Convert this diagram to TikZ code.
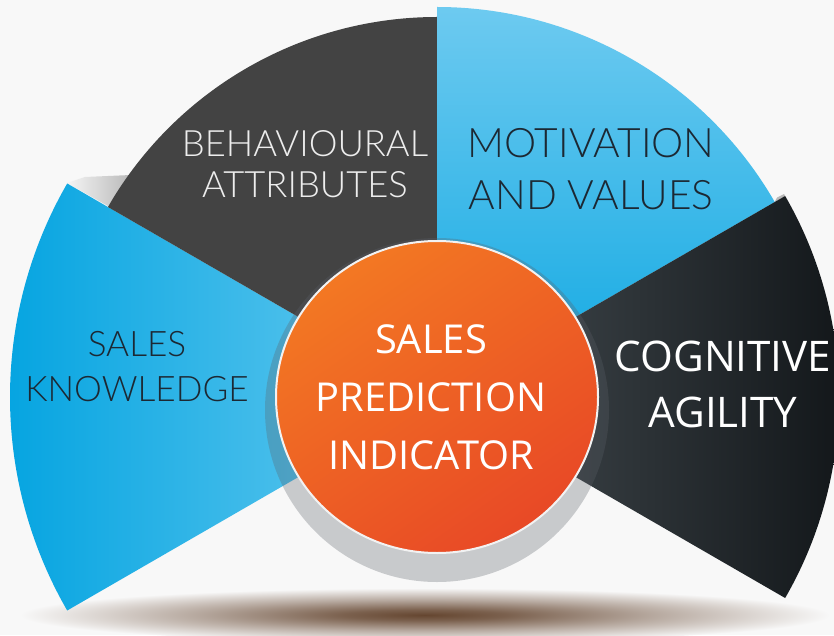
\documentclass[tikz,border=0pt]{standalone}
\usepackage{fontspec}
\newfontfamily\opensans{Open Sans}
\newfontfamily\thinsans{Lato Light}
\usepackage{xcolor}
\usepackage{tikz}
\usetikzlibrary{positioning}

\definecolor{bgcol}{HTML}{F8F8F8}
\definecolor{kblueL}{HTML}{02A3E0}
\definecolor{kblueR}{HTML}{6ACBF0}
\definecolor{behgrey}{HTML}{434343}
\definecolor{mblueT}{HTML}{6DCAF0}
\definecolor{mblueB}{HTML}{0FA8E2}
\definecolor{cognL}{HTML}{464E53}
\definecolor{cognR}{HTML}{111518}
\definecolor{orgA}{HTML}{F37823}
\definecolor{orgB}{HTML}{E84926}
\definecolor{ringgrey}{HTML}{5C6068}
\definecolor{darklabel}{HTML}{1C2833}
\definecolor{lightlabel}{HTML}{EDEDED}
\definecolor{shadowbrown}{HTML}{654630}

% soft brown shadow under the fan
\pgfdeclareradialshading{floorshadow}{\pgfpoint{0bp}{0bp}}{%
  color(0bp)=(shadowbrown); color(5bp)=(shadowbrown!85!bgcol);
  color(14bp)=(shadowbrown!45!bgcol); color(25bp)=(bgcol); color(50bp)=(bgcol)}

\begin{document}
\begin{tikzpicture}[x=0.3mm, y=0.3mm,
    wedge label/.style={align=center, inner sep=0pt},
    hub label/.style={align=center, inner sep=0pt, text=white,
      font=\opensans\fontsize{34}{49.5}\selectfont},
  ]

  \clip (0,0) rectangle (834,635);
  \fill[bgcol] (0,0) rectangle (834,635);
  \shade[shading=floorshadow] (425,20) ellipse (405 and 27);

  \coordinate (ctr) at (437,238);

  % Folded edges showing behind the segments
  \shade[left color=white!92!gray, right color=gray!55] (67,452) -- (85,458) -- (131,460) -- (108,429) -- cycle;
  \fill[gray!55] (774.7,433) -- (777,437.5) -- (784,441) -- (785.1,439) -- cycle;

  % Segments
  \shade[left color=kblueL, right color=kblueR]
    (ctr) -- ++(150:427) arc[start angle=150, end angle=210, radius=427] -- cycle;
  \fill[behgrey]
    (ctr) -- ++(90:380) arc[start angle=90, end angle=150, radius=380] -- cycle;
  \shade[top color=mblueT, bottom color=mblueB]
    (ctr) -- ++(30:390) arc[start angle=30, end angle=90, radius=390] -- cycle;
  \shade[left color=cognL, right color=cognR]
    (ctr) -- ++(-30:402) arc[start angle=-30, end angle=30, radius=402] -- cycle;

  % Ring and centre disc
  \fill[ringgrey, opacity=.3] (437,225) circle (172);
  \shade[top color=orgA, bottom color=orgB, shading angle=35,
    draw=white!90!gray, line width=.6mm] (ctr) ellipse (161 and 156);

  % Labels
  \node[wedge label, text=darklabel, font=\thinsans\fontsize{30}{38.4}\selectfont]
    (know) at (137,268) {SALES\\KNOWLEDGE};
  \node[wedge label, text=lightlabel, font=\thinsans\fontsize{31}{35.5}\selectfont]
    (behav) at (305,471) {BEHAVIOURAL\\ATTRIBUTES};
  \node[wedge label, text=darklabel, font=\thinsans\fontsize{34.7}{44.4}\selectfont]
    (motiv) at (591,466) {MOTIVATION\\AND VALUES};
  \node[wedge label, text=white, font=\opensans\fontsize{36}{47.8}\selectfont]
    (cogn) at (723,250.5) {COGNITIVE\\AGILITY};
  \node[hub label] (hub) at (431,237.5) {SALES\\PREDICTION\\INDICATOR};

\end{tikzpicture}
\end{document}
